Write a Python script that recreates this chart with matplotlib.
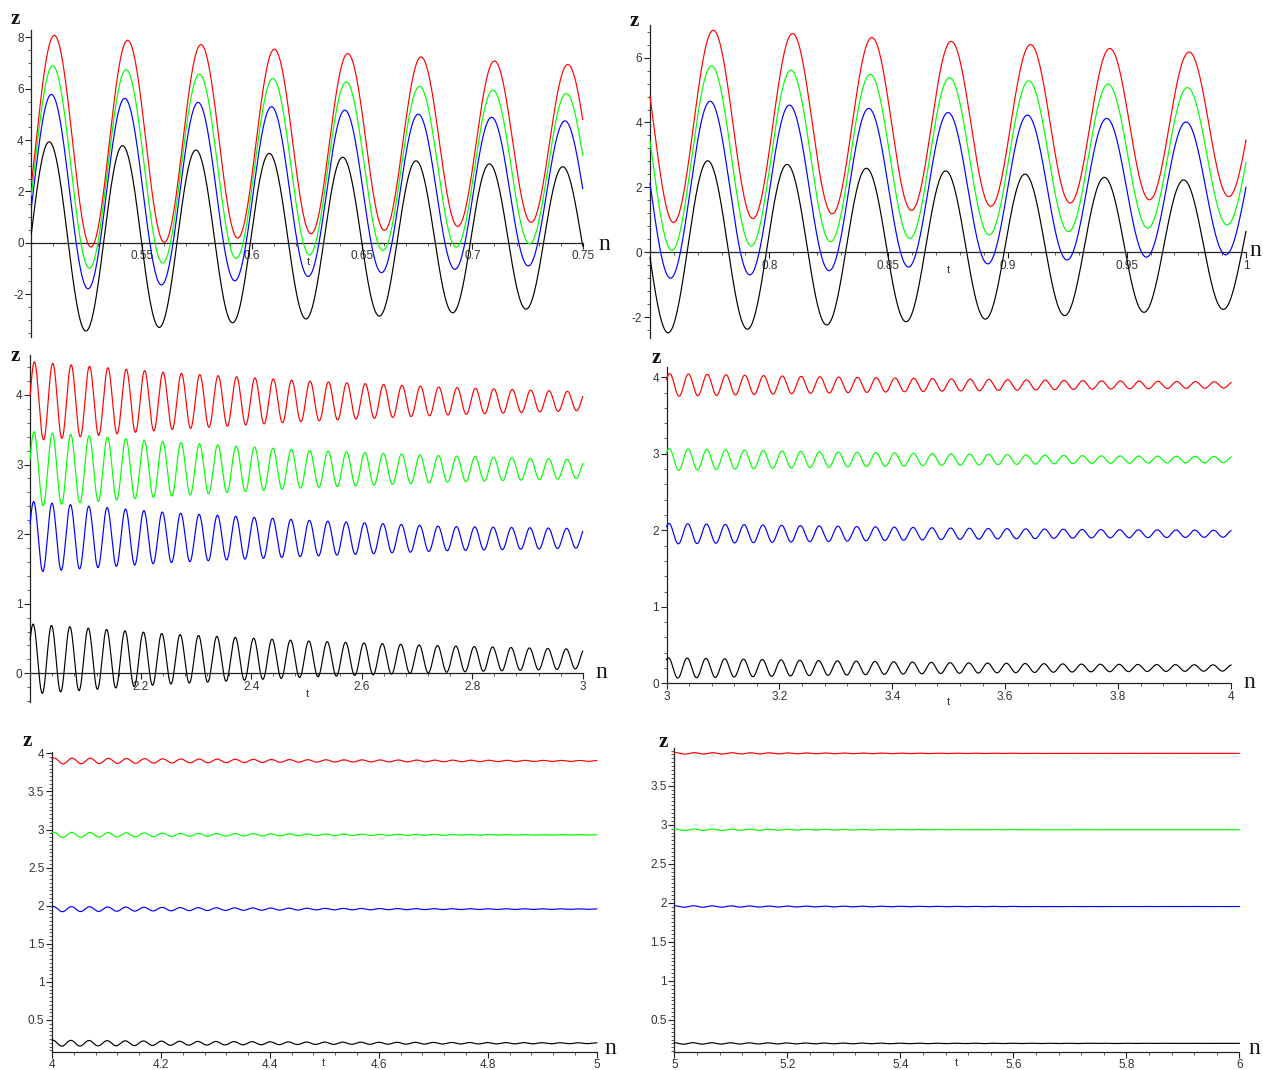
import numpy as np
import matplotlib
matplotlib.use("Agg")
import matplotlib.pyplot as plt
from matplotlib.ticker import FixedLocator, MultipleLocator, FixedFormatter

# ------------------------------------------------------------------ data
curve_names = ["black", "blue", "green", "red"]
curve_colors = ["#000000", "#0000ff", "#00ff00", "#ff0000"]
osc_period = 0.03327          # time between successive peaks
black_peak_ref = 0.5081        # a peak time of the black curve
curve_lag = [0.0, 0.0010, 0.0016, 0.0023]   # peak delay of each curve vs black

# panel 1 : t in [0.5, 0.75]  (peak / trough values)
p1_t = [0.5, 0.75]
p1_hi_t = [0.5081, 0.5414, 0.5746, 0.6079, 0.6412, 0.6741, 0.7075, 0.7410]
p1_lo_t = [0.5247, 0.5580, 0.5912, 0.6245, 0.6577, 0.6908, 0.7242]
p1_black_hi = [3.93, 3.78, 3.61, 3.48, 3.33, 3.19, 3.07, 2.96]
p1_black_lo = [-3.44, -3.30, -3.12, -2.97, -2.86, -2.73, -2.59]
p1_blue_hi = [5.78, 5.63, 5.47, 5.30, 5.17, 5.01, 4.89, 4.75]
p1_blue_lo = [-1.80, -1.65, -1.49, -1.32, -1.17, -1.04, -0.91]
p1_green_hi = [6.90, 6.75, 6.57, 6.40, 6.27, 6.10, 5.95, 5.82]
p1_green_lo = [-1.00, -0.80, -0.62, -0.48, -0.31, -0.18, -0.05]
p1_red_hi = [8.09, 7.90, 7.73, 7.55, 7.38, 7.25, 7.09, 6.95]
p1_red_lo = [-0.18, 0.00, 0.17, 0.34, 0.47, 0.62, 0.78]

# panel 2 : t in [0.75, 1]
p2_t = [0.75, 1.0]
p2_hi_t = [0.7740, 0.8073, 0.8405, 0.8736, 0.9072, 0.9404, 0.9738]
p2_lo_t = [0.7574, 0.7907, 0.8239, 0.8571, 0.8904, 0.9238, 0.9571, 0.9904]
p2_black_hi = [2.82, 2.71, 2.59, 2.51, 2.41, 2.31, 2.23]
p2_black_lo = [-2.48, -2.37, -2.24, -2.14, -2.06, -1.95, -1.85, -1.76]
p2_blue_hi = [4.66, 4.54, 4.44, 4.31, 4.23, 4.13, 4.02]
p2_blue_lo = [-0.80, -0.70, -0.57, -0.46, -0.36, -0.24, -0.15, -0.08]
p2_green_hi = [5.75, 5.62, 5.49, 5.39, 5.29, 5.19, 5.08]
p2_green_lo = [0.05, 0.19, 0.32, 0.42, 0.53, 0.63, 0.74, 0.84]
p2_red_hi = [6.85, 6.75, 6.63, 6.51, 6.41, 6.29, 6.18]
p2_red_lo = [0.91, 1.03, 1.18, 1.28, 1.41, 1.51, 1.61, 1.71]

# panel 3 : t in [2, 3]  (envelope read at a few times)
p3_t = [2.0, 3.0]
p3_knots = [2.0, 2.25, 2.5, 2.75, 3.0]
p3_black_hi = [0.71, 0.565, 0.465, 0.395, 0.345]
p3_black_lo = [-0.30, -0.155, -0.055, 0.015, 0.065]
p3_blue_hi = [2.47, 2.31, 2.20, 2.11, 2.08]
p3_blue_lo = [1.45, 1.59, 1.68, 1.76, 1.80]
p3_green_hi = [3.475, 3.325, 3.205, 3.125, 3.07]
p3_green_lo = [2.395, 2.545, 2.665, 2.745, 2.80]
p3_red_hi = [4.48, 4.32, 4.20, 4.11, 4.045]
p3_red_lo = [3.34, 3.50, 3.62, 3.71, 3.775]

# panel 4 : t in [3, 4]
p4_t = [3.0, 4.0]
p4_knots = [3.0, 3.25, 3.5, 3.75, 4.0]
p4_black_hi = [0.335, 0.30, 0.27, 0.25, 0.24]
p4_black_lo = [0.065, 0.10, 0.13, 0.15, 0.16]
p4_blue_hi = [2.09, 2.06, 2.03, 2.01, 2.00]
p4_blue_lo = [1.82, 1.85, 1.88, 1.90, 1.91]
p4_green_hi = [3.07, 3.03, 3.00, 2.975, 2.965]
p4_green_lo = [2.78, 2.82, 2.85, 2.875, 2.885]
p4_red_hi = [4.05, 4.01, 3.98, 3.955, 3.94]
p4_red_lo = [3.75, 3.79, 3.82, 3.845, 3.86]

# panel 5 : t in [4, 5]
p5_t = [4.0, 5.0]
p5_knots = [4.0, 4.25, 4.5, 4.75, 5.0]
p5_black_hi = [0.235, 0.22, 0.21, 0.205, 0.20]
p5_black_lo = [0.155, 0.17, 0.18, 0.185, 0.19]
p5_blue_hi = [1.99, 1.975, 1.965, 1.96, 1.958]
p5_blue_lo = [1.92, 1.935, 1.945, 1.95, 1.952]
p5_green_hi = [2.965, 2.95, 2.94, 2.935, 2.932]
p5_green_lo = [2.895, 2.91, 2.92, 2.925, 2.928]
p5_red_hi = [3.94, 3.925, 3.915, 3.91, 3.905]
p5_red_lo = [3.86, 3.875, 3.885, 3.89, 3.895]

# panel 6 : t in [5, 6]
p6_t = [5.0, 6.0]
p6_knots = [5.0, 5.25, 5.5, 5.75, 6.0]
p6_black_hi = [0.21, 0.205, 0.203, 0.202, 0.201]
p6_black_lo = [0.19, 0.195, 0.198, 0.199, 0.200]
p6_blue_hi = [1.963, 1.958, 1.955, 1.954, 1.953]
p6_blue_lo = [1.943, 1.948, 1.951, 1.952, 1.953]
p6_green_hi = [2.946, 2.941, 2.938, 2.937, 2.936]
p6_green_lo = [2.926, 2.931, 2.934, 2.935, 2.936]
p6_red_hi = [3.924, 3.919, 3.916, 3.915, 3.914]
p6_red_lo = [3.904, 3.909, 3.912, 3.913, 3.914]

# tick labels
p1_xticks = [0.55, 0.6, 0.65, 0.7, 0.75]
p1_xlabels = ["0.55", "0.6", "0.65", "0.7", "0.75"]
p1_yticks = [-2, 0, 2, 4, 6, 8]
p2_xticks = [0.8, 0.85, 0.9, 0.95, 1.0]
p2_xlabels = ["0.8", "0.85", "0.9", "0.95", "1"]
p2_yticks = [-2, 0, 2, 4, 6]
p3_xticks = [2.2, 2.4, 2.6, 2.8, 3.0]
p3_xlabels = ["2.2", "2.4", "2.6", "2.8", "3"]
p3_yticks = [0, 1, 2, 3, 4]
p4_xticks = [3.0, 3.2, 3.4, 3.6, 3.8, 4.0]
p4_xlabels = ["3", "3.2", "3.4", "3.6", "3.8", "4"]
p4_yticks = [0, 1, 2, 3, 4]
p5_xticks = [4.0, 4.2, 4.4, 4.6, 4.8, 5.0]
p5_xlabels = ["4", "4.2", "4.4", "4.6", "4.8", "5"]
p5_yticks = [0.5, 1, 1.5, 2, 2.5, 3, 3.5, 4]
p6_xticks = [5.0, 5.2, 5.4, 5.6, 5.8, 6.0]
p6_xlabels = ["5", "5.2", "5.4", "5.6", "5.8", "6"]
p6_yticks = [0.5, 1, 1.5, 2, 2.5, 3, 3.5]


def fmt_num(v):
    return "%g" % v


panels = [
    dict(t=p1_t, hi_t=p1_hi_t, lo_t=p1_lo_t,
         hi=[p1_black_hi, p1_blue_hi, p1_green_hi, p1_red_hi],
         lo=[p1_black_lo, p1_blue_lo, p1_green_lo, p1_red_lo],
         xt=p1_xticks, xl=p1_xlabels, yt=p1_yticks),
    dict(t=p2_t, hi_t=p2_hi_t, lo_t=p2_lo_t,
         hi=[p2_black_hi, p2_blue_hi, p2_green_hi, p2_red_hi],
         lo=[p2_black_lo, p2_blue_lo, p2_green_lo, p2_red_lo],
         xt=p2_xticks, xl=p2_xlabels, yt=p2_yticks),
    dict(t=p3_t, hi_t=p3_knots, lo_t=p3_knots,
         hi=[p3_black_hi, p3_blue_hi, p3_green_hi, p3_red_hi],
         lo=[p3_black_lo, p3_blue_lo, p3_green_lo, p3_red_lo],
         xt=p3_xticks, xl=p3_xlabels, yt=p3_yticks),
    dict(t=p4_t, hi_t=p4_knots, lo_t=p4_knots,
         hi=[p4_black_hi, p4_blue_hi, p4_green_hi, p4_red_hi],
         lo=[p4_black_lo, p4_blue_lo, p4_green_lo, p4_red_lo],
         xt=p4_xticks, xl=p4_xlabels, yt=p4_yticks),
    dict(t=p5_t, hi_t=p5_knots, lo_t=p5_knots,
         hi=[p5_black_hi, p5_blue_hi, p5_green_hi, p5_red_hi],
         lo=[p5_black_lo, p5_blue_lo, p5_green_lo, p5_red_lo],
         xt=p5_xticks, xl=p5_xlabels, yt=p5_yticks),
    dict(t=p6_t, hi_t=p6_knots, lo_t=p6_knots,
         hi=[p6_black_hi, p6_blue_hi, p6_green_hi, p6_red_hi],
         lo=[p6_black_lo, p6_blue_lo, p6_green_lo, p6_red_lo],
         xt=p6_xticks, xl=p6_xlabels, yt=p6_yticks),
]

# ------------------------------------------------------------------ layout (pixels)
W, H = 1263, 1070
layout = [
    dict(x0=31.4, x1=582.7, zref=0.0, yref=242.7, s=25.67, ylim=(-3.66, 8.29),
         minor_x=0.01, minor_y=0.5, xaxis_at=0.0,
         zlab=(15, 19), nlab=(604, 244), tlab=(308, 262)),
    dict(x0=650.0, x1=1246.0, zref=0.0, yref=252.3, s=32.45, ylim=(-2.64, 7.0),
         minor_x=0.01, minor_y=0.4, xaxis_at=0.0,
         zlab=(634, 21), nlab=(1255, 250), tlab=(948, 270)),
    dict(x0=30.2, x1=582.7, zref=0.0, yref=673.3, s=69.6, ylim=(-0.41, 4.57),
         minor_x=0.04, minor_y=0.2, xaxis_at=0.0,
         zlab=(15, 356), nlab=(601, 672), tlab=(307, 694)),
    dict(x0=666.5, x1=1231.0, zref=0.0, yref=683.3, s=76.5, ylim=(0.0, 4.14),
         minor_x=0.04, minor_y=0.2, xaxis_at=0.0,
         zlab=(656, 358), nlab=(1249, 683), tlab=(948, 702)),
    dict(x0=52.0, x1=596.7, zref=4.0, yref=753.3, s=76.2, ylim=(0.085, 4.02),
         minor_x=0.04, minor_y=0.05, xaxis_at=None,
         zlab=(27, 741), nlab=(610, 1049), tlab=(323, 1063)),
    dict(x0=674.3, x1=1239.3, zref=3.5, yref=785.7, s=78.1, ylim=(0.095, 3.98),
         minor_x=0.04, minor_y=0.05, xaxis_at=None,
         zlab=(663, 742), nlab=(1254, 1049), tlab=(956, 1063)),
]


def interp_ext(t, xs, ys):
    xs = np.asarray(xs, float)
    ys = np.asarray(ys, float)
    out = np.interp(t, xs, ys)
    if len(xs) > 1:
        lm = t < xs[0]
        out[lm] = ys[0] + (t[lm] - xs[0]) * (ys[1] - ys[0]) / (xs[1] - xs[0])
        rm = t > xs[-1]
        out[rm] = ys[-1] + (t[rm] - xs[-1]) * (ys[-1] - ys[-2]) / (xs[-1] - xs[-2])
    return out


fig = plt.figure(figsize=(W / 100, H / 100), dpi=100)
fig.patch.set_facecolor("white")

tick_family = ["Liberation Sans", "DejaVu Sans"]
serif = ["Liberation Serif", "DejaVu Serif"]

for p, L in zip(panels, layout):
    y_top = L["yref"] - (L["ylim"][1] - L["zref"]) * L["s"]
    y_bot = L["yref"] - (L["ylim"][0] - L["zref"]) * L["s"]
    rect = [L["x0"] / W, 1 - y_bot / H, (L["x1"] - L["x0"]) / W, (y_bot - y_top) / H]
    ax = fig.add_axes(rect)
    ax.set_xlim(p["t"][0], p["t"][1])
    ax.set_ylim(*L["ylim"])
    ax.patch.set_alpha(0)

    t = np.linspace(p["t"][0], p["t"][1], 6000)
    for i in range(4):
        hi = interp_ext(t, p["hi_t"], p["hi"][i])
        lo = interp_ext(t, p["lo_t"], p["lo"][i])
        ph = 2 * np.pi * (t - black_peak_ref - curve_lag[i]) / osc_period
        z = 0.5 * (hi + lo) + 0.5 * (hi - lo) * np.cos(ph)
        ax.plot(t, z, color=curve_colors[i], lw=0.85, solid_joinstyle="round",
                clip_on=False, zorder=3)

    for sp in ["top", "right"]:
        ax.spines[sp].set_visible(False)
    if L["xaxis_at"] is not None:
        ax.spines["bottom"].set_position(("data", L["xaxis_at"]))
    for sp in ["left", "bottom"]:
        ax.spines[sp].set_linewidth(0.9)
        ax.spines[sp].set_color("#222222")
        ax.spines[sp].set_zorder(2)

    ax.xaxis.set_major_locator(FixedLocator(p["xt"]))
    ax.xaxis.set_major_formatter(FixedFormatter(p["xl"]))
    ax.yaxis.set_major_locator(FixedLocator(p["yt"]))
    ax.yaxis.set_major_formatter(FixedFormatter([fmt_num(v) for v in p["yt"]]))
    ax.xaxis.set_minor_locator(MultipleLocator(L["minor_x"]))
    ax.yaxis.set_minor_locator(MultipleLocator(L["minor_y"]))
    ax.tick_params(which="major", direction="out", length=4, width=0.8,
                   color="#222222", labelcolor="#333333", pad=1.5)
    ax.tick_params(which="minor", direction="out", length=2, width=0.6,
                   color="#444444")
    for lab in ax.get_xticklabels() + ax.get_yticklabels():
        lab.set_fontfamily(tick_family)
        lab.set_fontsize(8.5)

    fig.text(L["zlab"][0] / W, 1 - L["zlab"][1] / H, "z", family=serif,
             fontsize=15, fontweight="bold", ha="center", va="center", color="#111111")
    fig.text(L["nlab"][0] / W, 1 - L["nlab"][1] / H, "n", family=serif,
             fontsize=17, ha="center", va="center", color="#111111")
    fig.text(L["tlab"][0] / W, 1 - L["tlab"][1] / H, "t", family=tick_family,
             fontsize=8, ha="center", va="center", color="#333333")

fig.savefig("out.png", dpi=100, facecolor="white")
